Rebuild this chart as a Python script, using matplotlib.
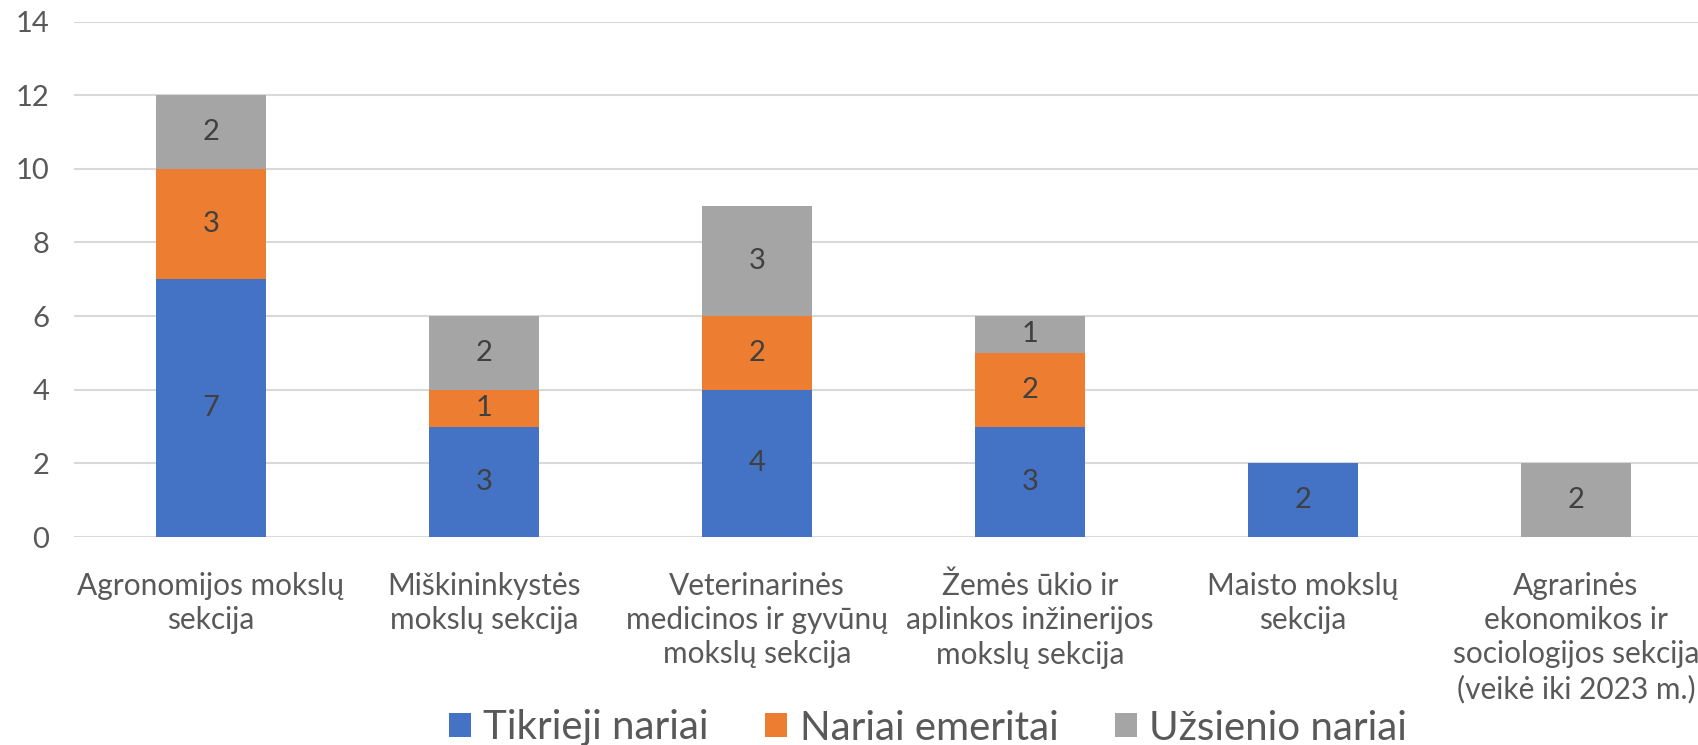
import matplotlib
matplotlib.use("Agg")
import matplotlib.pyplot as plt
import numpy as np

plt.rcParams["font.family"] = ["Lato", "DejaVu Sans"]

categories = [
    "Agronomijos mokslų\nsekcija",
    "Miškininkystės\nmokslų sekcija",
    "Veterinarinės\nmedicinos ir gyvūnų\nmokslų sekcija",
    "Žemės ūkio ir\naplinkos inžinerijos\nmokslų sekcija",
    "Maisto mokslų\nsekcija",
    "Agrarinės\nekonomikos ir\nsociologijos sekcija\n(veikė iki 2023 m.)",
]
tikrieji = [7, 3, 4, 3, 2, 0]
emeritai = [3, 1, 2, 2, 0, 0]
uzsienio = [2, 2, 3, 1, 0, 2]

series_names = ["Tikrieji nariai", "Nariai emeritai", "Užsienio nariai"]
colors = ["#4472C4", "#ED7D31", "#A5A5A5"]
yticks = [0, 2, 4, 6, 8, 10, 12, 14]

fig = plt.figure(figsize=(16.99, 7.45), dpi=100)
ax = fig.add_axes([74.5 / 1699, 1 - 537 / 745, 1638 / 1699, (537 - 21.5) / 745])

x = np.arange(len(categories))
bottom = np.zeros(len(categories))
for vals, name, col in zip([tikrieji, emeritai, uzsienio], series_names, colors):
    vals = np.array(vals, dtype=float)
    bars = ax.bar(x, vals, width=0.40, bottom=bottom, color=col, label=name, zorder=3)
    for b, v in zip(bars, vals):
        if v > 0:
            ax.text(b.get_x() + b.get_width() / 2, b.get_y() + v / 2, f"{int(v)}",
                    ha="center", va="center", fontsize=21, color="#404040", zorder=4)
    bottom += vals

ax.set_xlim(-0.5, len(categories) - 0.5)
ax.set_ylim(0, 14)
ax.set_yticks(yticks)
ax.set_xticks(x)
ax.set_xticklabels(categories, fontsize=21.5, color="#595959", linespacing=1.27)
ax.tick_params(axis="y", labelsize=21, labelcolor="#595959", length=0, pad=18)
ax.tick_params(axis="x", length=0, pad=25)
ax.grid(axis="y", color="#D9D9D9", linewidth=1.5, zorder=0)
for s in ax.spines.values():
    s.set_visible(False)

fig.legend(loc="center", bbox_to_anchor=(928 / 1699, 1 - 728 / 745), ncol=3, frameon=False,
           fontsize=29, labelcolor="#595959", handlelength=0.55, handleheight=0.55,
           handletextpad=0.3, columnspacing=1.4)

fig.savefig("out.png", dpi=100)
